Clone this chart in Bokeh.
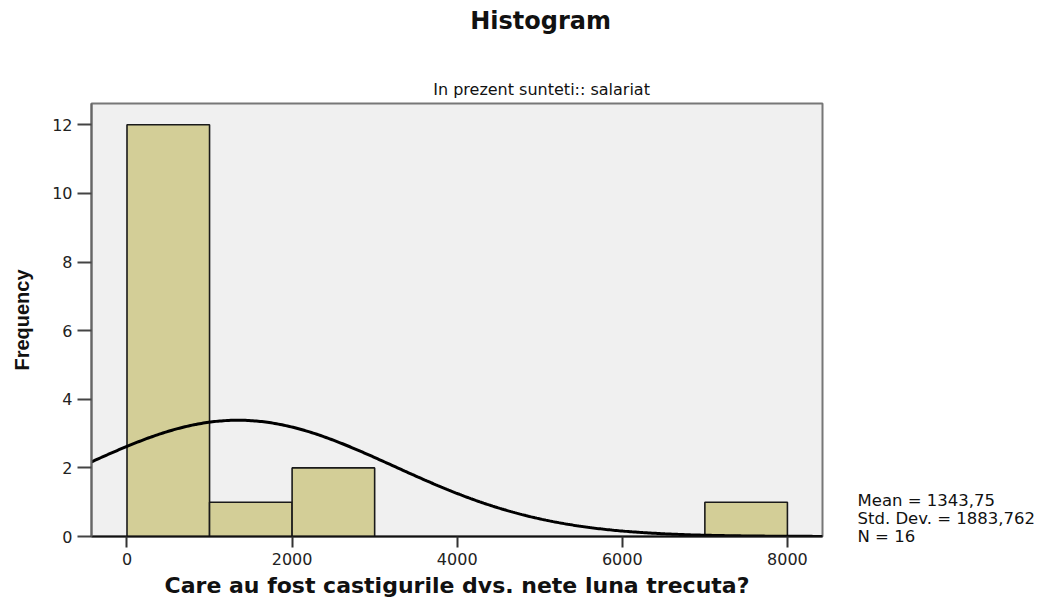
import numpy as np
from bokeh.plotting import figure
from bokeh.models import FixedTicker, ColumnDataSource, LinearAxis, Range1d
from bokeh.embed import file_html
from bokeh.resources import INLINE

# ---- data ----
bin_left = [0, 1000, 2000, 7000]
bin_right = [1000, 2000, 3000, 8000]
counts = [12, 1, 2, 1]
x_ticks = [0, 2000, 4000, 6000, 8000]
y_ticks = [0, 2, 4, 6, 8, 10, 12]
mean_val = 1343.75
std_val = 1883.762
n_val = 16
bin_width = 1000

title_text = "Histogram"
subtitle_text = "In prezent sunteti:: salariat"
x_label = "Care au fost castigurile dvs. nete luna trecuta?"
y_label = "Frequency"
stats_lines = ["Mean = 1343,75", "Std. Dev. = 1883,762", "N = 16"]

X0, X1 = -430, 8425
Y0, Y1 = 0, 12.62

p = figure(width=1040, height=602, x_range=(X0, X1), y_range=(Y0, Y1),
           output_backend="svg", toolbar_location=None,
           min_border_left=91, min_border_right=218,
           min_border_top=103, min_border_bottom=66)

p.background_fill_color = "#f0f0f0"
p.border_fill_color = "white"
p.outline_line_color = "#777777"
p.outline_line_width = 2
p.xgrid.visible = False
p.ygrid.visible = False

src = ColumnDataSource(dict(left=bin_left, right=bin_right, top=counts,
                            bottom=[0] * len(counts)))
p.quad(left="left", right="right", top="top", bottom="bottom", source=src,
       fill_color="#d3ce97", line_color="#1a1a1a", line_width=1.6)

# fitted normal curve from the stated mean / std. dev.
xs = np.linspace(X0, X1, 400)
ys = n_val * bin_width * np.exp(-0.5 * ((xs - mean_val) / std_val) ** 2) / (std_val * np.sqrt(2 * np.pi))
p.line(xs, ys, line_color="black", line_width=3)

# axes
p.xaxis.ticker = FixedTicker(ticks=x_ticks)
p.yaxis.ticker = FixedTicker(ticks=y_ticks)
for ax in (p.xaxis, p.yaxis):
    ax.minor_tick_line_color = None
    ax.major_tick_in = 0
    ax.major_label_text_font = "DejaVu Sans"
    ax.major_label_text_font_size = "16px"
    ax.major_label_text_color = "#222222"
    ax.axis_line_width = 2
    ax.major_tick_line_width = 2
p.xaxis.axis_line_color = "#111111"
p.xaxis.major_tick_line_color = "#333333"
p.xaxis.major_tick_out = 11
p.xaxis.major_label_standoff = 5
p.xaxis.axis_label = x_label
p.xaxis.axis_label_text_font = "DejaVu Sans"
p.xaxis.axis_label_text_font_style = "bold"
p.xaxis.axis_label_text_font_size = "22px"
p.xaxis.axis_label_text_color = "#111111"
p.xaxis.axis_label_standoff = 5

p.yaxis.axis_line_color = "#666666"
p.yaxis.major_tick_line_color = "#444444"
p.yaxis.major_tick_out = 14
p.yaxis.major_label_standoff = 5
p.yaxis.axis_label = y_label
p.yaxis.axis_label_text_font = "Liberation Sans"
p.yaxis.axis_label_text_font_style = "bold"
p.yaxis.axis_label_text_font_size = "20px"
p.yaxis.axis_label_text_color = "#111111"
p.yaxis.axis_label_standoff = 16


def text_axis(ticks, overrides, standoff, font, size, style, **kw):
    ax = LinearAxis(ticker=FixedTicker(ticks=ticks), major_label_overrides=overrides, **kw)
    ax.axis_line_color = None
    ax.major_tick_line_color = None
    ax.minor_tick_line_color = None
    ax.major_tick_out = 0
    ax.major_tick_in = 0
    ax.major_label_standoff = standoff
    ax.major_label_text_font = font
    ax.major_label_text_font_size = size
    ax.major_label_text_font_style = style
    ax.major_label_text_color = "#111111"
    return ax


# statistics block on the right
p.extra_y_ranges = {"stats": Range1d(0, 24.06)}
p.add_layout(text_axis([2, 1, 0], {2: stats_lines[0], 1: stats_lines[1], 0: stats_lines[2]},
                       35, "DejaVu Sans", "16.5px", "normal", y_range_name="stats"), "right")

# subtitle (closest to the frame) and main title above it
p.add_layout(text_axis([5022], {5022: subtitle_text}, 5, "DejaVu Sans", "16px", "normal"), "above")
p.add_layout(text_axis([5010], {5010: title_text}, 42, "DejaVu Sans", "24px", "bold"), "above")

open("out.html", "w").write(file_html(p, INLINE))
